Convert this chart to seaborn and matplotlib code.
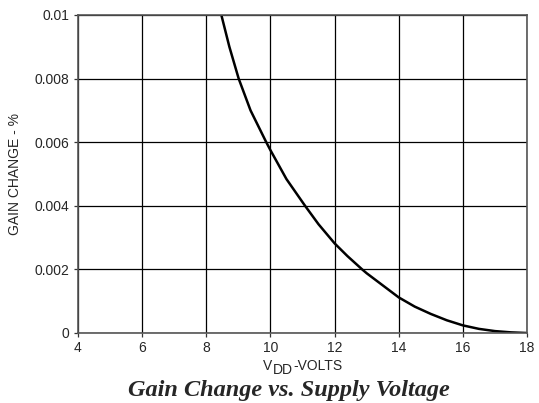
import numpy as np
import pandas as pd
import seaborn as sns
import matplotlib.pyplot as plt

# curve
vdd = [8.47, 8.72, 9.01, 9.38, 9.87, 10.0, 10.5, 11.08, 11.5, 12.0, 12.4,
       12.86, 13.0, 14.0, 14.5, 15.0, 15.5, 16.0, 16.5, 17.0, 17.5, 18.0]
gain_change = [0.0100, 0.0090, 0.0080, 0.0070, 0.0060, 0.00575, 0.00484,
               0.0040, 0.00342, 0.00282, 0.00242, 0.0020, 0.00188, 0.00112, 0.00083,
               0.0006, 0.0004, 0.00024, 0.00013, 0.00006, 0.00002, 0.0]

x_ticks = [4, 6, 8, 10, 12, 14, 16, 18]
y_ticks = [0, 0.002, 0.004, 0.006, 0.008, 0.01]
y_tick_labels = ["0", "0.002", "0.004", "0.006", "0.008", "0.01"]

df = pd.DataFrame({"vdd": vdd, "gain": gain_change})

sns.set_style("white")
plt.rcParams['font.family'] = ['Liberation Sans', 'DejaVu Sans']

fig = plt.figure(figsize=(5.39, 4.03), dpi=100)
ax = fig.add_axes([0.1447, 0.1737, 0.8330, 0.7891])

sns.lineplot(data=df, x="vdd", y="gain", color="black", linewidth=1.8, ax=ax)

ax.set_xlim(4, 18)
ax.set_ylim(0, 0.01)
ax.set_xticks(x_ticks)
ax.set_xticklabels([str(t) for t in x_ticks])
ax.set_yticks(y_ticks)
ax.set_yticklabels(y_tick_labels)
ax.grid(True, color="black", linewidth=0.9)
ax.set_axisbelow(True)
for s in ax.spines.values():
    s.set_color("#555555")
    s.set_linewidth(1.2)
ax.tick_params(axis="both", labelsize=10, length=3, width=0.9, color="#333333",
               direction="out", bottom=True, left=True, pad=3)

ax.set_xlabel("")
ax.set_ylabel("GAIN CHANGE - %", fontsize=10, labelpad=9)

# x label: V with DD subscript at full size, then -VOLTS
t1 = fig.text(263.3 / 539, 1 - 369.5 / 403, "V", fontsize=10, va="baseline")
t2 = ax.annotate("DD", xy=(1, 0), xycoords=t1, xytext=(0.5, -5),
                 textcoords="offset pixels", fontsize=10, va="bottom")
t3 = ax.annotate("-VOLTS", xy=(1, 0), xycoords=t2, xytext=(0.5, 5),
                 textcoords="offset pixels", fontsize=10, va="bottom")

fig.text(0.5356, 0.0185, "Gain Change vs. Supply Voltage", ha="center", va="baseline",
         fontsize=17.5, fontweight="bold", fontstyle="italic", family="Liberation Serif")

fig.savefig("out.png", dpi=100)
